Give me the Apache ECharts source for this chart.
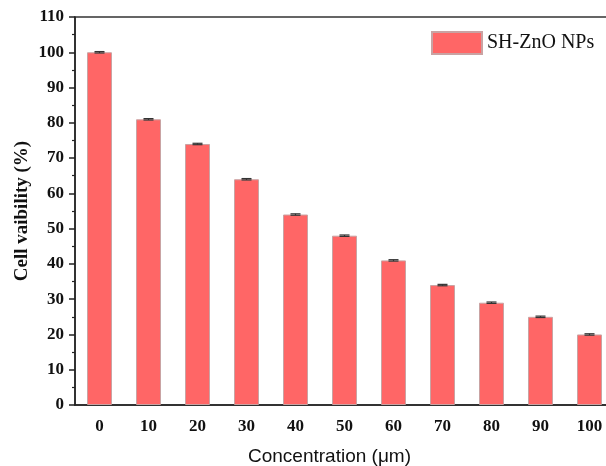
<!DOCTYPE html>
<html>
<head>
<meta charset="utf-8">
<script src="https://cdn.jsdelivr.net/npm/echarts@6/dist/echarts.min.js"></script>
<style>
  html, body { margin: 0; padding: 0; background: #fff; }
  #main { width: 606px; height: 466px; }
</style>
</head>
<body>
<div id="main"></div>
<script>
// 数据
var concentrations = ['0', '10', '20', '30', '40', '50', '60', '70', '80', '90', '100'];
var viability = [100, 81, 74, 64, 54, 48, 41, 34, 29, 25, 20];
var errors = [0.2, 0.2, 0.2, 0.2, 0.2, 0.2, 0.2, 0.2, 0.2, 0.2, 0.2];
var yTicks = [0, 10, 20, 30, 40, 50, 60, 70, 80, 90, 100, 110];

var chart = echarts.init(document.getElementById('main'));

var serif = 'Liberation Serif';
var axisColor = '#222';

var option = {
  animation: false,
  backgroundColor: '#fff',
  grid: {
    left: 75,
    width: 539,
    top: 17,
    bottom: 61,
    outerBoundsMode: 'none',
    containLabel: false,
    show: true,
    borderColor: '#333',
    borderWidth: 1.5,
    backgroundColor: 'transparent'
  },
  legend: {
    left: 426,
    top: 26,
    itemWidth: 50,
    itemHeight: 22,
    itemGap: 6,
    icon: 'rect',
    data: ['SH-ZnO NPs'],
    textStyle: { fontFamily: serif, fontSize: 20, color: '#111' }
  },
  xAxis: [
    {
      type: 'category',
      data: concentrations,
      position: 'bottom',
      name: 'Concentration (\u03bcm)',
      nameLocation: 'middle',
      nameGap: 42,
      nameTextStyle: { fontFamily: 'Liberation Sans', fontSize: 19, color: '#111', padding: [0, 30, 0, 0] },
      axisLine: { lineStyle: { color: axisColor, width: 1.5 } },
      axisTick: { alignWithLabel: true, length: 7, lineStyle: { color: axisColor, width: 1.5 } },
      axisLabel: { fontFamily: serif, fontWeight: 'bold', fontSize: 17, color: '#111', margin: 13 },
      splitLine: { show: false }
    },
    {
      // 类目之间的次刻度
      type: 'category',
      data: concentrations,
      position: 'bottom',
      axisLine: { show: false },
      axisTick: { alignWithLabel: false, length: 4, lineStyle: { color: axisColor, width: 1.5 } },
      axisLabel: { show: false },
      splitLine: { show: false }
    }
  ],
  yAxis: {
    type: 'value',
    min: 0,
    max: 110,
    interval: 10,
    name: 'Cell vaibility (%)',
    nameLocation: 'middle',
    nameGap: 43,
    nameMoveOverlap: false,
    nameTextStyle: { fontFamily: serif, fontWeight: 'bold', fontSize: 19, color: '#111' },
    axisLine: { show: true, lineStyle: { color: axisColor, width: 1.5 } },
    axisTick: { show: true, length: 6, lineStyle: { color: axisColor, width: 1.5 } },
    minorTick: { show: true, splitNumber: 2, length: 3, lineStyle: { color: axisColor, width: 1.2 } },
    axisLabel: {
      fontFamily: serif, fontWeight: 'bold', fontSize: 17, color: '#111', margin: 11,
      formatter: function (v) { return yTicks.indexOf(v) >= 0 ? String(v) : ''; }
    },
    splitLine: { show: false }
  },
  series: [
    {
      name: 'SH-ZnO NPs',
      type: 'bar',
      data: viability,
      barWidth: '51%',
      itemStyle: { color: '#ff6666', borderColor: '#c9a3a3', borderWidth: 1 }
    },
    {
      name: 'error',
      type: 'custom',
      data: viability.map(function (v, i) { return [i, v, errors[i]]; }),
      z: 5,
      renderItem: function (params, api) {
        var x = api.coord([api.value(0), api.value(1)])[0];
        var hi = api.coord([api.value(0), api.value(1) + api.value(2)])[1];
        var lo = api.coord([api.value(0), api.value(1) - api.value(2)])[1];
        var half = 5;
        var style = { stroke: '#333', lineWidth: 1.2 };
        return {
          type: 'group',
          children: [
            { type: 'line', shape: { x1: x, y1: hi, x2: x, y2: lo }, style: style },
            { type: 'line', shape: { x1: x - half, y1: hi, x2: x + half, y2: hi }, style: style },
            { type: 'line', shape: { x1: x - half, y1: lo, x2: x + half, y2: lo }, style: style }
          ]
        };
      }
    }
  ]
};

chart.setOption(option);
</script>
</body>
</html>
